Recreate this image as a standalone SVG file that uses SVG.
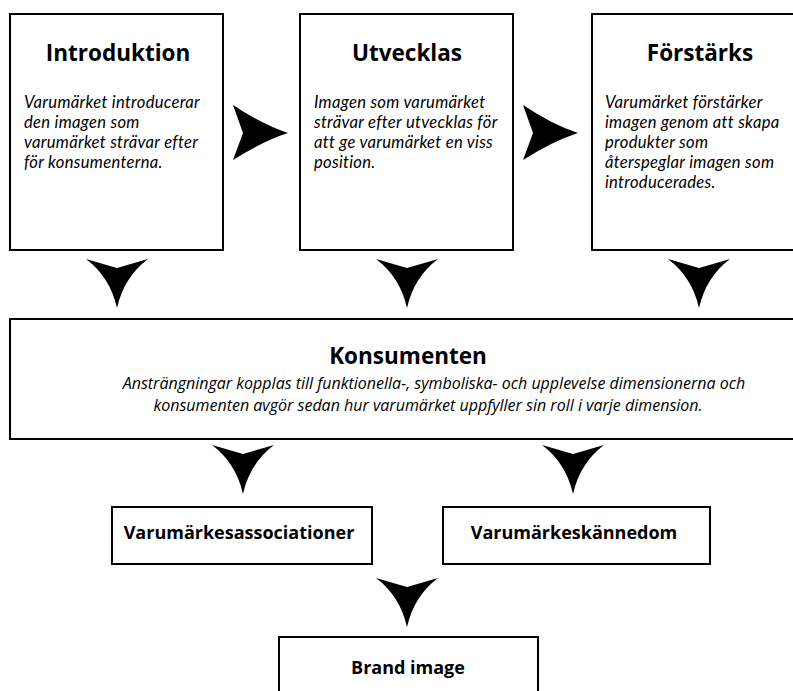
<svg xmlns="http://www.w3.org/2000/svg" width="793" height="691" viewBox="0 0 793 691">
  <style>
    .box { fill: #ffffff; stroke: #000000; stroke-width: 2; }
    .title { font-family: "Open Sans", Lato, sans-serif; font-weight: bold; font-size: 22.5px; fill: #000; text-anchor: middle; }
    .label { font-family: "Open Sans", Lato, sans-serif; font-weight: bold; font-size: 18px; fill: #000; text-anchor: middle; }
    .body { font-family: Lato, "Open Sans", sans-serif; font-style: italic; font-size: 16.6px; letter-spacing: 0.3px; fill: #000; }
    .note { font-family: "Open Sans", Lato, sans-serif; font-style: italic; font-size: 16px; fill: #000; text-anchor: middle; }
    .arrow { fill: #000000; stroke: none; }
  </style>
  <defs>
    <!-- chevron arrowhead pointing down, origin at its top centre -->
    <path id="down" d="M-31,0 L0,9 L31,0 Q7,18 0,49 Q-7,18 -31,0 Z"/>
    <!-- chevron arrowhead pointing right, origin at its rear notch -->
    <path id="right" d="M-10,-28 Q20,-8 45,0 Q20,8 -10,27 L0,0 Z"/>
  </defs>

  <rect width="793" height="691" fill="#ffffff"/>

  <g id="introduktion">
    <rect class="box" x="10" y="14" width="213" height="236"/>
    <text class="title" x="118" y="61">Introduktion</text>
    <text class="body" x="24" y="108">Varumärket introducerar</text>
    <text class="body" x="24" y="128">den imagen som</text>
    <text class="body" x="24" y="148">varumärket strävar efter</text>
    <text class="body" x="24" y="168">för konsumenterna.</text>
  </g>

  <g id="utvecklas">
    <rect class="box" x="300" y="14" width="213" height="236"/>
    <text class="title" x="407" y="61">Utvecklas</text>
    <text class="body" x="314" y="108">Imagen som varumärket</text>
    <text class="body" x="314" y="128">strävar efter utvecklas för</text>
    <text class="body" x="314" y="148">att ge varumärket en viss</text>
    <text class="body" x="314" y="168">position.</text>
  </g>

  <g id="forstarks">
    <rect class="box" x="592" y="14" width="230" height="236"/>
    <text class="title" x="700" y="61">Förstärks</text>
    <text class="body" x="605" y="108">Varumärket förstärker</text>
    <text class="body" x="605" y="128">imagen genom att skapa</text>
    <text class="body" x="605" y="148">produkter som</text>
    <text class="body" x="605" y="168">återspeglar imagen som</text>
    <text class="body" x="605" y="188">introducerades.</text>
  </g>

  <g id="konsumenten">
    <rect class="box" x="10" y="319" width="800" height="120"/>
    <text class="title" x="408" y="364">Konsumenten</text>
    <text class="note" x="434" y="389">Ansträngningar kopplas till funktionella-, symboliska- och upplevelse dimensionerna och</text>
    <text class="note" x="428" y="411">konsumenten avgör sedan hur varumärket uppfyller sin roll i varje dimension.</text>
  </g>

  <g id="associationer">
    <rect class="box" x="112" y="507" width="260" height="57"/>
    <text class="label" x="239" y="539">Varumärkesassociationer</text>
  </g>

  <g id="kannedom">
    <rect class="box" x="443" y="507" width="267" height="57"/>
    <text class="label" x="574" y="539">Varumärkeskännedom</text>
  </g>

  <g id="brand-image">
    <rect class="box" x="279" y="637" width="259" height="80"/>
    <text class="label" x="408" y="674">Brand image</text>
  </g>

  <g id="connectors">
    <use href="#right" class="arrow" x="243" y="133"/>
    <use href="#right" class="arrow" x="533" y="133"/>
    <use href="#down" class="arrow" x="117" y="259"/>
    <use href="#down" class="arrow" x="407" y="259"/>
    <use href="#down" class="arrow" x="699" y="259"/>
    <use href="#down" class="arrow" x="243" y="445"/>
    <use href="#down" class="arrow" x="573" y="445"/>
    <use href="#down" class="arrow" x="407" y="578"/>
  </g>
</svg>
